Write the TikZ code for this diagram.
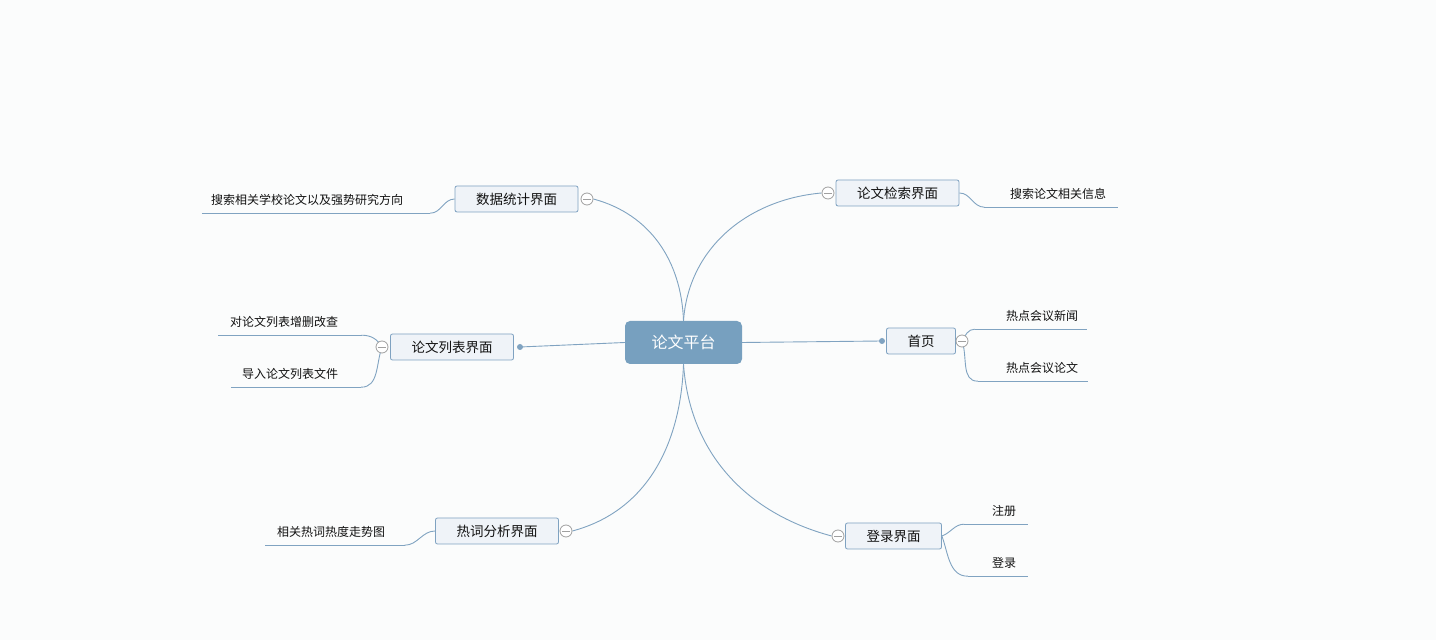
\documentclass[tikz,border=0pt]{standalone}
\usepackage{fontspec}
\setmainfont{Noto Sans CJK SC}
\usetikzlibrary{backgrounds}
\definecolor{bgc}{HTML}{FBFCFC}
\definecolor{linec}{HTML}{80A3C1}
\definecolor{topicfill}{HTML}{EFF3F8}
\definecolor{topicdraw}{HTML}{7FA2C1}
\definecolor{rootfill}{HTML}{77A0BF}
\definecolor{foldc}{HTML}{A0A0A0}
\definecolor{txt}{HTML}{111111}
\newcommand{\tshift}[2]{\hspace*{#1}#2}
\begin{document}
\begin{tikzpicture}[x=1pt,y=1pt,
  rootbox/.style={rectangle, rounded corners=5pt, fill=rootfill, draw=none, text=white,
    minimum width=117pt, minimum height=43pt, inner sep=0pt, font=\fontsize{16}{19}\selectfont},
  topic/.style={rectangle, rounded corners=2pt, fill=topicfill, draw=topicdraw, line width=0.8pt,
    minimum height=26pt, inner xsep=21pt, inner ysep=0pt, text=txt, font=\fontsize{13.5}{16}\selectfont},
  leaf/.style={rectangle, minimum height=26pt, inner sep=0pt, text=txt, font=\fontsize{12}{14}\selectfont},
  fold/.style={circle, draw=foldc, fill=white, minimum size=12pt, inner sep=0pt, line width=0.8pt,
    path picture={\draw[foldc, line width=0.8pt] ([xshift=-4pt]path picture bounding box.center) -- ([xshift=4pt]path picture bounding box.center);}},
  dotc/.style={circle, fill=linec, minimum size=6pt, inner sep=0pt},
  conn/.style={draw=linec, line width=0.9pt}
]
\useasboundingbox (0,0) rectangle (1436,640);
\begin{scope}[on background layer]
  \fill[bgc] (0,0) rectangle (1436,640);
\end{scope}

% root and topics
\node[rootbox] (root) at (683.5,297.5) {论文平台};
\node[topic] (stat) at (516.5,441) {数据统计界面};
\node[topic] (list) at (452,293) {论文列表界面};
\node[topic] (hot) at (497,109) {热词分析界面};
\node[topic] (search) at (897.5,447) {论文检索界面};
\node[topic] (home) at (921,299) {首页};
\node[topic] (login) at (893.5,104) {登录界面};

% fold markers and dots
\node[fold] (fstat) at (587,441) {};
\node[fold] (flist) at (382,293) {};
\node[fold] (fhot) at (566,109) {};
\node[fold] (fsearch) at (828,447) {};
\node[fold] (fhome) at (962,299) {};
\node[fold] (flogin) at (838,104) {};
\node[dotc] (dlist) at (520,293) {};
\node[dotc] (dhome) at (882,299) {};

% leaves (text shifted by twice the wanted offset)
\node[leaf, minimum width=228pt] (l1) at (316,440) {\tshift{-18pt}{搜索相关学校论文以及强势研究方向}};
\node[leaf, minimum width=143pt] (l2) at (290,318) {\tshift{-12pt}{对论文列表增删改查}};
\node[leaf, minimum width=130pt] (l3) at (296,266) {\tshift{-12pt}{导入论文列表文件}};
\node[leaf, minimum width=139pt] (l4) at (335,108) {\tshift{-8pt}{相关热词热度走势图}};
\node[leaf, minimum width=133pt] (r1) at (1051,446) {\tshift{14pt}{搜索论文相关信息}};
\node[leaf, minimum width=112pt] (r2) at (1031,324) {\tshift{22pt}{热点会议新闻}};
\node[leaf, minimum width=110pt] (r3) at (1033,272) {\tshift{18pt}{热点会议论文}};
\node[leaf, minimum width=63pt] (r4) at (996,129) {\tshift{16pt}{注册}};
\node[leaf, minimum width=60pt] (r5) at (998,77) {\tshift{12pt}{登录}};

\begin{scope}[on background layer]
  % main branches
  \draw[conn] (root.north) to[out=92, in=-15] (fstat.east);
  \draw[conn] (root.north) to[out=86, in=185] (fsearch.west);
  \draw[conn] (root.south) to[out=-92, in=15] (fhot.east);
  \draw[conn] (root.south) to[out=-86, in=165] (flogin.west);
  \draw[conn] (root.west) -- (dlist.center);
  \draw[conn] (root.east) -- (dhome.center);
  % underlines
  \foreach \n in {l1,l2,l3,l4,r1,r2,r3,r4,r5}
    \draw[conn] (\n.south west) -- (\n.south east);
  % leaf links
  \draw[conn] (stat.west) to[out=180, in=0] (l1.south east);
  \draw[conn] (flist.center) to[out=120, in=0] (l2.south east);
  \draw[conn] (flist.center) to[out=-110, in=0] (l3.south east);
  \draw[conn] (hot.west) to[out=180, in=0] (l4.south east);
  \draw[conn] (search.east) to[out=0, in=180] (r1.south west);
  \draw[conn] (fhome.center) to[out=60, in=180] (r2.south west);
  \draw[conn] (fhome.center) to[out=-70, in=180] (r3.south west);
  \draw[conn] (login.east) to[out=20, in=180] (r4.south west);
  \draw[conn] (login.east) to[out=-70, in=180] (r5.south west);
\end{scope}
\end{tikzpicture}
\end{document}
